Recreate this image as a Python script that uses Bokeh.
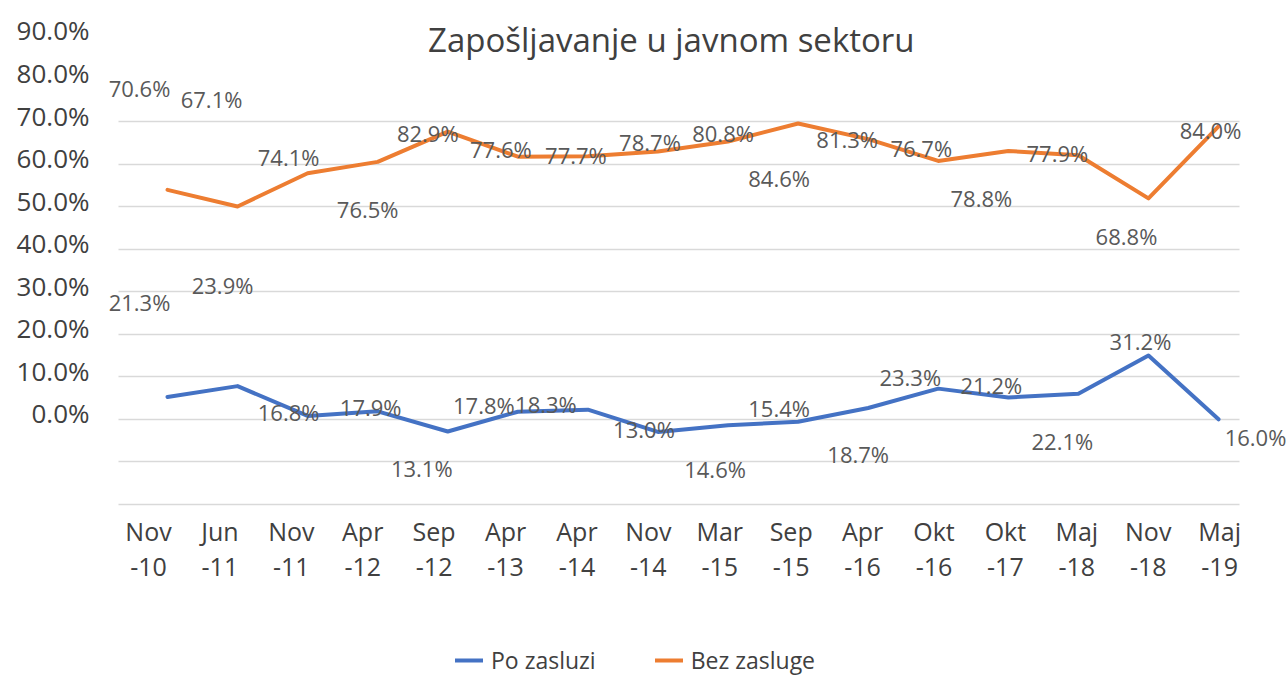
from bokeh.plotting import figure
from bokeh.models import (Range1d, FixedTicker, CustomJSTickFormatter, ColumnDataSource,
                          Legend, LegendItem, Label)
from bokeh.core.properties import value
from bokeh.embed import file_html
from bokeh.resources import INLINE

# ---------------- data ----------------
CATEGORIES = ["Nov-10", "Jun-11", "Nov-11", "Apr-12", "Sep-12", "Apr-13", "Apr-14", "Nov-14",
              "Mar-15", "Sep-15", "Apr-16", "Okt-16", "Okt-17", "Maj-18", "Nov-18", "Maj-19"]
PO_ZASLUZI = [21.3, 23.9, 16.8, 17.9, 13.1, 17.8, 18.3, 13.0, 14.6, 15.4, 18.7, 23.3, 21.2, 22.1, 31.2, 16.0]
BEZ_ZASLUGE = [70.6, 67.1, 74.1, 76.5, 82.9, 77.6, 77.7, 78.7, 80.8, 84.6, 81.3, 76.7, 78.8, 77.9, 68.8, 84.0]
Y_TICKS = [0, 10, 20, 30, 40, 50, 60, 70, 80, 90]
Y_TICK_LABELS = ["0.0%", "10.0%", "20.0%", "30.0%", "40.0%", "50.0%",
                 "60.0%", "70.0%", "80.0%", "90.0%"]
GRID_LEVELS = [-20, -10, 0, 10, 20, 30, 40, 50, 60, 70]
TITLE = "Zapošljavanje u javnom sektoru"
SERIES_NAMES = ["Po zasluzi", "Bez zasluge"]

# ---------------- layout (pixel offsets of the data labels) ----------------
PO_DX = [-28, -15, -19, -7, -26, -34, -42, -14, -13, -19, -10, -28, -17, -16, -8, 37]
PO_DY = [-95, -101, -4, -4, 37, -7, -6, -3, 44, -14, 46, -12, -12, 47, -14, 18]
BEZ_DX = [-28, -26, -19, -10, -20, -17, -12, -8, -5, -19, -21, -17, -27, -21, -22, -8]
BEZ_DY = [-102, -107, -16, 47, 1, -8, -1, -9, -9, 55, 0, -13, 47, -2, 38, 4]

BLUE = "#4472C4"
ORANGE = "#ED7D31"
TEXT_DARK = "#404040"
TEXT_LABEL = "#595959"
FONT = "Open Sans"

n = len(CATEGORIES)
xs = list(range(n))
x_labels = [c.replace("-", "\n-") for c in CATEGORIES]

Y_START, Y_END = -60.41, 98.43
LABEL_SHIFT = 1.4   # tick labels sit slightly above their grid lines, as in the reference

p = figure(width=1286, height=676, output_backend="svg", toolbar_location=None,
           title=None,
           x_range=Range1d(-0.956, 15.970), y_range=Range1d(Y_START, Y_END),
           min_border_left=100, min_border_right=0, min_border_top=0, min_border_bottom=0)
p.outline_line_color = None
p.background_fill_color = "white"
p.border_fill_color = "white"

p.extra_y_ranges = {
    "bez": Range1d(-32.07, 110.55),
    "po": Range1d(-45.24, 115.71),
    "ylab": Range1d(Y_START - LABEL_SHIFT, Y_END - LABEL_SHIFT),
}

# grid
p.xgrid.visible = False
p.ygrid.ticker = FixedTicker(ticks=GRID_LEVELS)
p.ygrid.cross_bounds = (-0.699, 15.299)
p.ygrid.grid_line_color = "#D9D9D9"
p.ygrid.grid_line_width = 1.5

# y axis
yax = p.yaxis[0]
yax.y_range_name = "ylab"
yax.ticker = FixedTicker(ticks=Y_TICKS)
yax.major_label_overrides = {t: lab for t, lab in zip(Y_TICKS, Y_TICK_LABELS)}
yax.axis_line_color = None
yax.major_tick_line_color = None
yax.minor_tick_line_color = None
yax.major_tick_out = 0
yax.major_label_standoff = 11
yax.major_label_text_font = FONT
yax.major_label_text_font_size = "26px"
yax.major_label_text_color = TEXT_DARK

# x axis (drawn at the bottom grid edge, inside the frame)
xax = p.xaxis[0]
TICK_START, TICK_STEP = -0.271, 1.0191
xax.ticker = FixedTicker(ticks=[TICK_START + TICK_STEP * i for i in range(n)])
xax.formatter = CustomJSTickFormatter(args=dict(labels=x_labels), code="return labels[index];")
xax.fixed_location = -20.47
xax.axis_line_color = None
xax.major_tick_line_color = None
xax.minor_tick_line_color = None
xax.major_tick_out = 0
xax.major_label_standoff = 7
xax.major_label_text_font = FONT
xax.major_label_text_font_size = "25px"
xax.major_label_text_color = TEXT_DARK
xax.major_label_text_line_height = 1.05

# series
po_src = ColumnDataSource(dict(x=xs, v=PO_ZASLUZI, label=[f"{v:.1f}%" for v in PO_ZASLUZI],
                               dx=PO_DX, dy=PO_DY))
bez_src = ColumnDataSource(dict(x=xs, v=BEZ_ZASLUGE, label=[f"{v:.1f}%" for v in BEZ_ZASLUGE],
                                dx=BEZ_DX, dy=BEZ_DY))

r_po = p.line("x", "v", source=po_src, y_range_name="po", line_color=BLUE, line_width=4,
              line_join="round", line_cap="round")
r_bez = p.line("x", "v", source=bez_src, y_range_name="bez", line_color=ORANGE, line_width=4,
               line_join="round", line_cap="round")

for src, rn in ((po_src, "po"), (bez_src, "bez")):
    p.text("x", "v", text="label", x_offset="dx", y_offset="dy", source=src, y_range_name=rn,
           text_font=value(FONT), text_font_size=value("22px"), text_color=TEXT_LABEL,
           text_align="center", text_baseline="middle")

# title
p.add_layout(Label(x=7.19, y=89.3, text=TITLE, text_font=FONT, text_font_size="33px",
                   text_color=TEXT_DARK, text_align="center", text_baseline="middle"))

# legend
legend = Legend(items=[LegendItem(label=SERIES_NAMES[0], renderers=[r_po]),
                       LegendItem(label=SERIES_NAMES[1], renderers=[r_bez])],
                orientation="horizontal", location=(355, 0), padding=0, margin=0, spacing=59,
                glyph_width=28, glyph_height=20, label_standoff=8,
                border_line_color=None, background_fill_alpha=0,
                label_text_font=FONT, label_text_font_size="23px", label_text_color=TEXT_DARK)
p.add_layout(legend)

open("out.html", "w").write(file_html(p, INLINE))
